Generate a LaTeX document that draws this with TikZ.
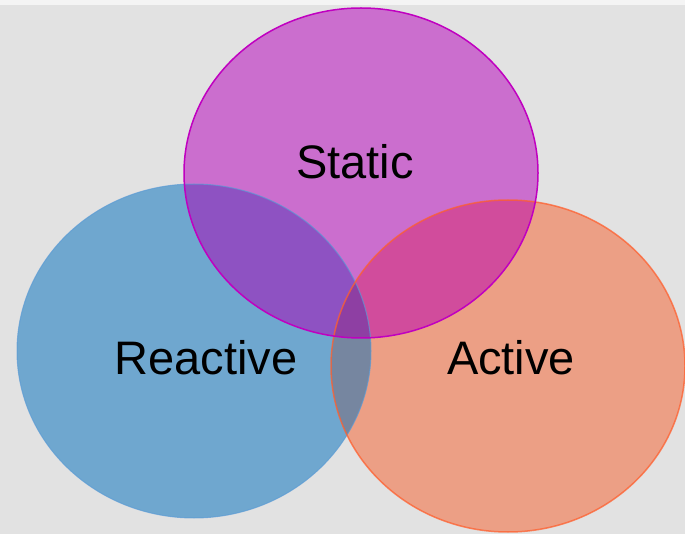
\documentclass[tikz,border=0pt]{standalone}
\usepackage{fontspec}
\setmainfont{Liberation Sans}
\begin{document}
\begin{tikzpicture}[x=1pt,y=-1pt]
\definecolor{bg}{HTML}{E2E2E2}
\definecolor{topband}{HTML}{F4F4F4}
\definecolor{rfill}{HTML}{6FA7CF}
\definecolor{afill}{HTML}{EC9F85}
\definecolor{sfill}{HTML}{CB6ECE}
\definecolor{rsfill}{HTML}{8E52C2}
\definecolor{safill}{HTML}{D14C9C}
\definecolor{rafill}{HTML}{7686A0}
\definecolor{rsafill}{HTML}{8E3FA3}
\definecolor{rline}{HTML}{5B9BD5}
\definecolor{aline}{HTML}{FF5F2E}
\definecolor{sline}{HTML}{C000C0}
\tikzset{
  rpath/.style={insert path={(194,351) ellipse [x radius=177, y radius=167]}},
  apath/.style={insert path={(508,366) ellipse [x radius=177, y radius=166]}},
  spath/.style={insert path={(361,173) ellipse [x radius=177, y radius=165]}},
  label/.style={font=\fontsize{47}{50}\selectfont, text=black, inner sep=0pt}
}
\fill[bg] (0,0) rectangle (685,534);
\fill[topband] (0,0) rectangle (685,5);
\useasboundingbox (0,0) rectangle (685,534);
% base fills
\fill[rfill, rpath];
\fill[afill, apath];
\fill[sfill, spath];
% overlaps
\begin{scope}\path[clip, rpath]; \fill[rsfill, spath]; \fill[rafill, apath];\end{scope}
\begin{scope}\path[clip, spath]; \fill[safill, apath];\end{scope}
\begin{scope}\path[clip, rpath]; \path[clip, spath]; \fill[rsafill, apath];\end{scope}
% borders
\draw[rline, line width=1pt, draw opacity=0.7, rpath];
\draw[aline, line width=1.5pt, draw opacity=0.75, apath];
\draw[sline, line width=1.5pt, spath];
% labels
\node[label] (static) at (355,162) {Static};
\node[label] (reactive) at (206,358) {Reactive};
\node[label] (active) at (511,358) {Active};
\end{tikzpicture}
\end{document}
